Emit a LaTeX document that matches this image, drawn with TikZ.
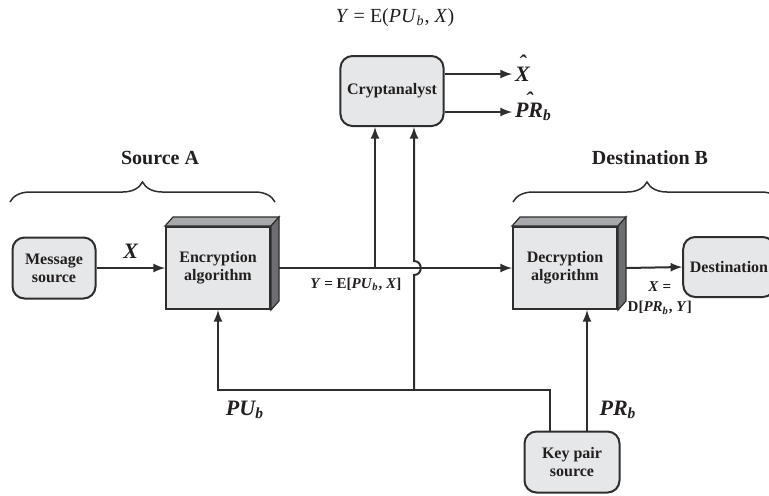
\documentclass[tikz,border=0pt]{standalone}
\usepackage{fontspec}
\setmainfont{Liberation Serif}
\usetikzlibrary{arrows, decorations.pathreplacing}

\definecolor{boxgray}{HTML}{E6E7E8}
\definecolor{topgray}{HTML}{A7A9AC}
\definecolor{sidegray}{HTML}{6D6E71}
\definecolor{linegray}{HTML}{2E2E2E}
\definecolor{ink}{HTML}{231F20}

% caret set high over a piece of text
\newcommand{\hatover}[1]{\setbox0=\hbox{#1}\makebox[0pt][l]{\makebox[\wd0]{\raisebox{0.47em}[0pt][0pt]{\char"02C6}}}\box0}
% top and right faces of a block
\newcommand{\boxdepth}[1]{%
\filldraw[topface] (#1.north west) -- ([shift={(8,-9)}]#1.north west) -- ([shift={(8,-9)}]#1.north east) -- (#1.north east) -- cycle;
\filldraw[sideface] (#1.north east) -- ([shift={(8,-9)}]#1.north east) -- ([shift={(8,-9)}]#1.south east) -- (#1.south east) -- cycle;}

\begin{document}
\begin{tikzpicture}[x=0.5pt, y=-0.5pt, >=latex, line width=1pt,
  rbox/.style={draw=linegray, fill=boxgray, rounded corners=6pt, align=center, text=ink, font=\fontsize{8}{9}\selectfont\bfseries},
  abox/.style={draw=linegray, fill=boxgray, align=center, text=ink, font=\fontsize{8}{9}\selectfont\bfseries, minimum width=52pt, minimum height=41pt},
  topface/.style={draw=linegray, fill=topgray, line width=0.6pt},
  sideface/.style={draw=linegray, fill=sidegray, line width=0.6pt},
  wire/.style={draw=linegray, line width=1pt},
  lbl/.style={text=ink, font=\fontsize{11}{12}\selectfont\bfseries\itshape},
  slbl/.style={text=ink, align=center, font=\fontsize{7.5}{10}\selectfont\bfseries},
  head/.style={text=ink, font=\fontsize{10}{12}\selectfont\bfseries},
  brace/.style={draw=linegray, line width=0.75pt, decorate, decoration={brace, amplitude=10pt}}]
\path[use as bounding box, clip] (0,0) rectangle (769,495);

\node[text=ink, font=\fontsize{10}{12}\selectfont] (title) at (395,18) {\textit{Y} = E(\textit{PU}\textsubscript{\textit{b}}, \textit{X})};

% blocks
\node[rbox, minimum width=41.5pt, minimum height=30.5pt] (msg) at (54,268) {Message\\source};
\node[abox] (enc) at (218,268) {Encryption\\algorithm};
\node[rbox, minimum width=49.5pt, minimum height=35pt] (crypt) at (392,91) {Cryptanalyst};
\node[abox] (dec) at (565,268) {Decryption\\algorithm};
\node[rbox, minimum width=42pt, minimum height=30pt] (dest) at (729,267) {Destination};
\node[rbox, minimum width=47.5pt, minimum height=30.5pt] (key) at (572,462) {Key pair\\source};
\boxdepth{enc}
\boxdepth{dec}

\node[head] (srcA) at (160,158) {Source A};
\node[head] (dstB) at (650,158) {Destination B};
\draw[brace] (10,202) -- (275,202);
\draw[brace] (513,202) -- (781,202);

% connectors
\coordinate (bus) at (414,390);
\coordinate (hop) at (bus |- enc.east);
\coordinate (tap) at ([xshift=-8.5pt]crypt.south |- enc.east);

\draw[wire,->] (msg) -- (enc) node[lbl, midway, above=1pt] {X};
\draw[wire,->] ([xshift=4pt]enc.east) -- (dec.west) node[slbl, pos=0.33, below=1pt] {\textit{Y} = E[\textit{PU}\textsubscript{\textit{b}}, \textit{X}]};
\draw[wire,->] ([xshift=4pt]dec.east) -- (dest.west) node[slbl, pos=0.6, below=3.5pt] {\textit{X} =\\D[\textit{PR}\textsubscript{\textit{b}}, \textit{Y}]};
\draw[wire,->] (tap) -- ([xshift=-8.5pt]crypt.south);
\draw[wire,->] (bus) -- ([yshift=-3.5pt]hop) .. controls +(4.5pt,0) and +(4.5pt,0) .. ([yshift=3.5pt]hop) -- ([xshift=11pt]crypt.south);
\draw[wire,->] ([xshift=-11pt]key.north) |- (bus) -| (enc.south);
\draw[wire,->] ([xshift=7.5pt]key.north) -- ([xshift=7.5pt]key.north |- dec.south);

\node[lbl, anchor=west, inner sep=1pt] (xhat) at (512,74) {\hatover{X}};
\node[lbl, anchor=west, inner sep=1pt] (prhat) at (512,112) {\hatover{PR}\textsubscript{b}};
\draw[wire,->] (crypt.east |- xhat.west) -- (xhat.west);
\draw[wire,->] (crypt.east |- prhat.west) -- (prhat.west);

\node[lbl] (pub) at (245,410) {PU\textsubscript{b}};
\node[lbl] (prb) at (618,410) {PR\textsubscript{b}};
\end{tikzpicture}
\end{document}
